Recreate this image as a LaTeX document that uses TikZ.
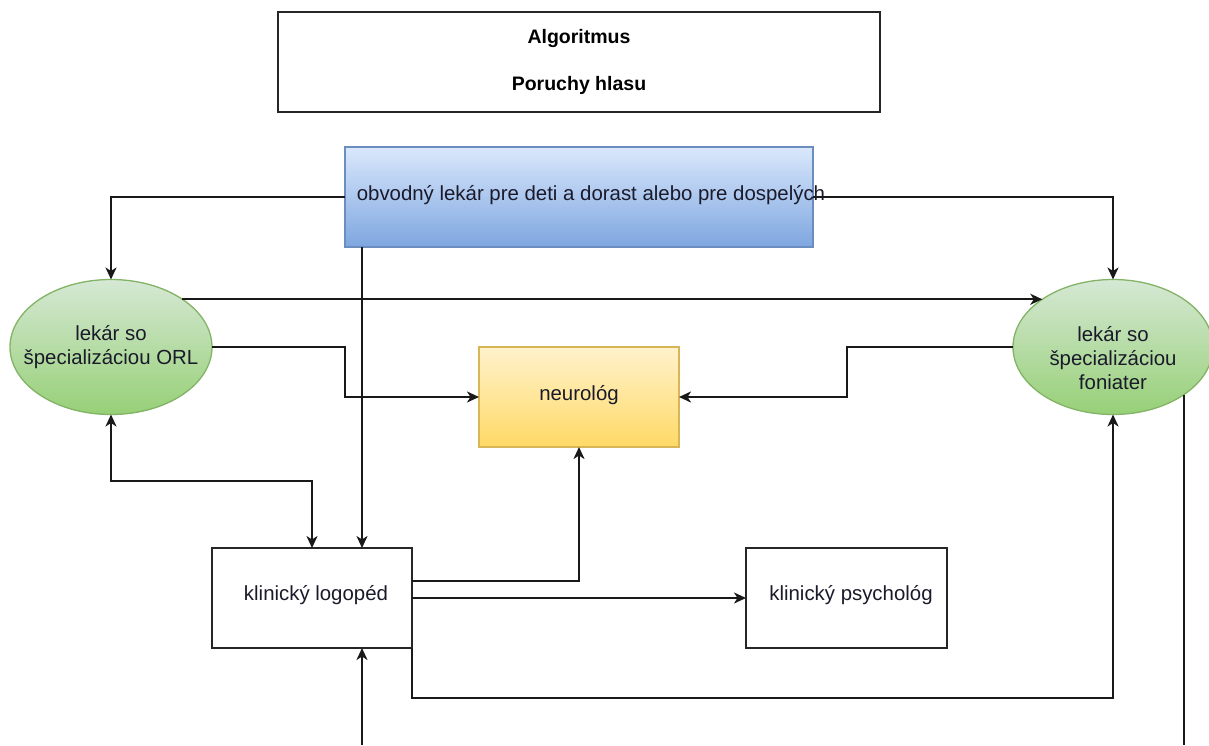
\documentclass[tikz,border=0pt]{standalone}
\usepackage{fontspec}
\setmainfont{Liberation Sans}
\usetikzlibrary{arrows.meta,shapes.geometric,calc}
\definecolor{bluetop}{HTML}{DAE8FC}
\definecolor{bluebot}{HTML}{7EA6E0}
\definecolor{blueline}{HTML}{6C8EBF}
\definecolor{greentop}{HTML}{D5E8D4}
\definecolor{greenbot}{HTML}{97D077}
\definecolor{greenline}{HTML}{82B366}
\definecolor{yeltop}{HTML}{FFF2CC}
\definecolor{yelbot}{HTML}{FFD966}
\definecolor{yelline}{HTML}{D6B656}
\definecolor{txtc}{HTML}{1A1A2A}
\tikzset{
  plainbox/.style={draw=black!85, line width=1.6pt, fill=white, inner sep=0pt, outer sep=0pt},
  bluebox/.style={draw=blueline, line width=1.3pt, top color=bluetop, bottom color=bluebot, inner sep=0pt, outer sep=0pt},
  yelbox/.style={draw=yelline, line width=1.3pt, top color=yeltop, bottom color=yelbot, inner sep=0pt, outer sep=0pt},
  greenell/.style={ellipse, draw=greenline, line width=1.3pt, top color=greentop, bottom color=greenbot, inner sep=0pt, outer sep=0pt},
  txt/.style={font=\fontsize{20.4}{24}\selectfont, text=txtc, inner sep=0pt, align=center},
  btxt/.style={font=\fontsize{19.5}{24}\selectfont\bfseries, text=black, inner sep=0pt},
  conn/.style={line width=1.9pt, draw=black!90},
  arr/.style={conn, -{Stealth[length=12pt,width=11pt,inset=3.5pt]}},
  darr/.style={conn, {Stealth[length=12pt,width=11pt,inset=3.5pt]}-{Stealth[length=12pt,width=11pt,inset=3.5pt]}}
}
\begin{document}
\begin{tikzpicture}[x=1pt,y=-1pt]
\useasboundingbox (0,0) rectangle (1209,745);

% title
\node[plainbox, minimum width=602pt, minimum height=100pt] (title) at (579,62) {};
\node[btxt] (t1) at (579,38) {Algoritmus};
\node[btxt] (t2) at (579,85) {Poruchy hlasu};

% nodes
\node[bluebox, minimum width=468pt, minimum height=100pt] (gp) at (579,197) {};
\node[greenell, minimum width=202pt, minimum height=135pt] (orl) at (111,347) {};
\node[greenell, minimum width=200pt, minimum height=135pt] (fon) at (1113,347) {};
\node[yelbox, minimum width=200pt, minimum height=100pt] (neu) at (579,397) {};
\node[plainbox, minimum width=200pt, minimum height=100pt] (lg) at (312,598) {};
\node[plainbox, minimum width=201pt, minimum height=100pt] (ps) at (846.5,598) {};

% connectors
\coordinate (r1) at (0,481);
\coordinate (b1) at (362,745);
\coordinate (b2) at (1183,745);
\coordinate (nl) at (345,0);
\coordinate (nr) at (847,0);

\draw[arr] (gp.west) -| (orl.north);
\draw[arr] (gp.east) -| (fon.north);
\draw[arr] ([xshift=17pt]gp.south west) -- ([xshift=50pt]lg.north);
\draw[arr] (orl.north east) -- (fon.north west);
\draw[arr] (orl.east) -- (orl.east -| nl) |- (neu.west);
\draw[arr] (fon.west) -- (fon.west -| nr) |- (neu.east);
\draw[darr] (orl.south) -- (orl.south |- r1) -| (lg.north);
\draw[arr] ([yshift=17pt]lg.east) -| (neu.south);
\draw[arr] (lg.east) -- (ps.west);
\draw[arr] (lg.south east) -- ++(0,50) -| (fon.south);
\draw[arr] (b1) -- ([xshift=50pt]lg.south);
\draw[conn] (fon.south east) -- (fon.south east |- b2);

% texts
\node[txt] (gptext) at (591,195) {obvodný lekár pre deti a dorast alebo pre dospelých};
\node[txt] (orltext) at (111,347) {lekár so\\špecializáciou ORL};
\node[txt] (fontext) at (1113,358) {lekár so\\špecializáciou\\foniater};
\node[txt] (neutext) at (579,395) {neurológ};
\node[txt] (lgtext) at (316,595) {klinický logopéd};
\node[txt] (pstext) at (851,595) {klinický psychológ};
\end{tikzpicture}
\end{document}
